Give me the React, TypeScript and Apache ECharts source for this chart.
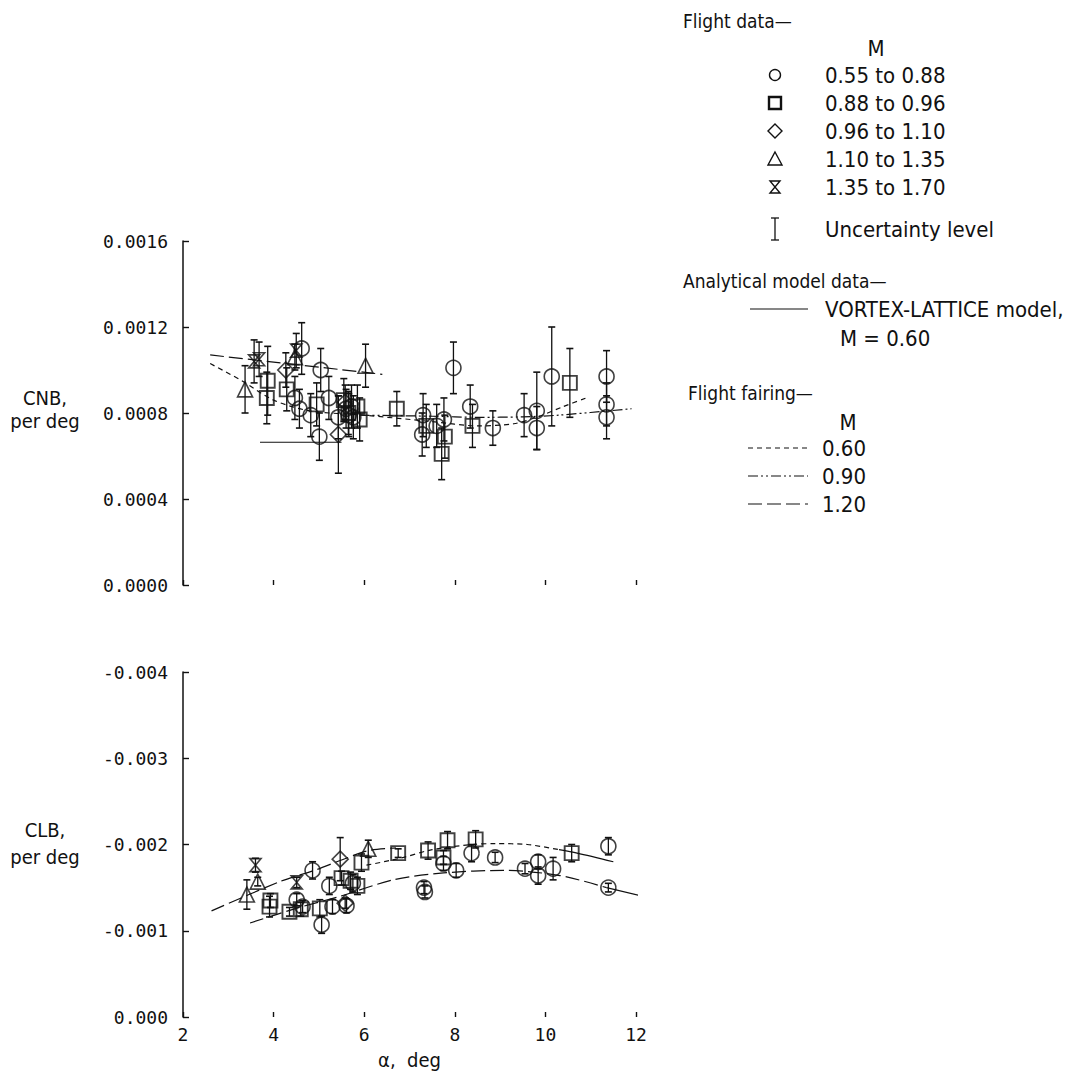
import React, { useEffect, useRef } from "react";
import * as echarts from "echarts";

// ---------- Data: [alpha (deg), value, uncertainty] ----------
// CNB (upper plot)
const cnbCircles = [
  [4.62, 0.0011, 0.00012], [4.47, 0.00087, 0.0001], [4.57, 0.00082, 0.00009], [4.82, 0.00079, 0.0001],
  [5.04, 0.001, 0.0001], [5.01, 0.00069, 0.00011], [5.22, 0.00087, 0.0001], [5.43, 0.00078, 0.0001],
  [5.6, 0.00082, 0.00009], [5.66, 0.00079, 0.0001], [5.72, 0.00083, 0.0001], [5.76, 0.00078, 0.0001],
  [7.3, 0.00079, 0.0001], [7.28, 0.0007, 0.0001], [7.6, 0.00074, 0.0001], [7.76, 0.00077, 0.0001],
  [7.97, 0.00101, 0.00012], [8.34, 0.00083, 0.0001], [8.84, 0.00073, 0.00008], [9.53, 0.00079, 0.0001],
  [9.81, 0.00081, 0.00018], [9.81, 0.00073, 0.0001], [10.14, 0.00097, 0.00023], [11.35, 0.00097, 0.00012],
  [11.35, 0.00084, 0.0001], [11.35, 0.00078, 0.0001],
];
const cnbSquares = [
  [3.87, 0.00095, 0.00016], [3.85, 0.00087, 0.00012], [4.29, 0.00091, 0.0001], [4.95, 0.00084, 0.0001],
  [5.55, 0.00086, 0.0001], [5.65, 0.0008, 0.0001], [5.85, 0.00083, 0.0001], [5.9, 0.00077, 0.0001],
  [6.72, 0.00082, 0.00008], [7.37, 0.00074, 0.0001], [7.78, 0.00069, 0.0001], [7.71, 0.00061, 0.00012],
  [8.39, 0.00074, 0.0001], [10.54, 0.00094, 0.00016],
];
const cnbDiamonds = [
  [4.27, 0.001, 0.00008], [5.43, 0.0007, 0.00018], [5.58, 0.00085, 0.00008],
];
const cnbTriangles = [
  [3.37, 0.00091, 0.00011], [4.47, 0.00106, 0.00006], [6.03, 0.00102, 0.0001],
];
const cnbHourglass = [
  [3.57, 0.00104, 0.0001], [3.68, 0.00105, 0.00008], [4.5, 0.00109, 0.00008],
];
// CNB curves [alpha, value]
const cnbVortex = [[3.7, 0.000664], [5.5, 0.000664]];
const cnbFair060 = [
  [2.6, 0.00103], [3.3, 0.00095], [4.0, 0.00086], [4.8, 0.00081], [6.0, 0.00079], [7.5, 0.00076],
  [8.5, 0.00074], [9.3, 0.00075], [9.8, 0.00078], [10.4, 0.00083], [10.9, 0.00087],
];
const cnbFair090 = [
  [5.9, 0.00079], [7.5, 0.000785], [8.5, 0.00078], [9.5, 0.000782], [10.3, 0.00079], [11.9, 0.00082],
];
const cnbFair120 = [[2.6, 0.00107], [6.4, 0.00098]];

// CLB (lower plot)
const clbCircles = [
  [4.64, -0.00128, 0.00007], [4.51, -0.00136, 0.00007], [4.86, -0.0017, 0.0001], [5.06, -0.00107, 0.0001],
  [5.23, -0.00152, 0.0001], [5.3, -0.00128, 0.00008], [5.61, -0.00129, 0.00008], [5.75, -0.00155, 0.0001],
  [7.32, -0.0015, 0.00007], [7.34, -0.00145, 0.00007], [7.75, -0.00178, 0.00008], [8.03, -0.0017, 0.00008],
  [8.37, -0.0019, 0.0001], [8.89, -0.00185, 0.00006], [9.55, -0.00172, 0.00006], [9.84, -0.0018, 0.00008],
  [9.84, -0.00164, 0.0001], [10.17, -0.00172, 0.00013], [11.39, -0.00198, 0.0001], [11.39, -0.0015, 0.00005],
];
const clbSquares = [
  [3.91, -0.00128, 0.00012], [3.93, -0.00135, 0.00008], [4.35, -0.00122, 0.00005], [4.6, -0.00125, 0.00008],
  [5.02, -0.00126, 0.0001], [5.5, -0.00161, 0.00008], [5.7, -0.00158, 0.0001], [5.85, -0.00152, 0.0001],
  [5.94, -0.00179, 0.0001], [6.75, -0.0019, 0.00005], [7.41, -0.00193, 0.0001], [7.75, -0.00185, 0.00008],
  [7.84, -0.00205, 0.0001], [8.46, -0.00206, 0.0001], [10.58, -0.0019, 0.0001],
];
const clbDiamonds = [[5.47, -0.00183, 0.00025], [5.58, -0.00132, 0.00006]];
const clbTriangles = [[3.41, -0.00142, 0.00017], [3.65, -0.00157, 0.00005], [6.09, -0.00195, 0.0001]];
const clbHourglass = [[3.6, -0.00176, 0.00008], [4.51, -0.00156, 0.00006]];
// CLB curves
const clbVortexA = [[10.3, -0.00194], [10.7, -0.0019], [11.5, -0.0018]];
const clbVortexB = [[11.35, -0.0015], [12.16, -0.0014]];
const clbFair060 = [
  [3.48, -0.00109], [4.5, -0.00126], [5.47, -0.0014], [6.64, -0.00159], [7.75, -0.00167],
  [9.07, -0.0017], [10.32, -0.00164], [11.35, -0.0015],
];
const clbFair090 = [
  [6.05, -0.00176], [6.79, -0.00184], [7.5, -0.00194], [8.4, -0.002], [8.9, -0.00201],
  [9.6, -0.002], [10.3, -0.00194],
];
const clbFair120 = [
  [2.63, -0.00123], [4.14, -0.00157], [4.9, -0.0017], [5.5, -0.00182], [6.1, -0.00193], [6.7, -0.00196],
];

const xTickLabels = ["2", "4", "6", "8", "10", "12"];

const MONO = '"DejaVu Sans Mono", "Liberation Mono", monospace';
const SANS = '"DejaVu Sans Condensed", "Liberation Sans Narrow", "Liberation Sans", sans-serif';
const INK = "#111";

const HOURGLASS = "path://M0,0L10,0L0,10L10,10Z";

const DASH060 = [5, 4];
const DASH090 = [10, 3, 2, 3, 2, 3];
const DASH120 = [14, 5];

function scatter(data: number[][], symbol: string, size: any, gi: number, bw = 1.6) {
  return {
    type: "scatter",
    xAxisIndex: gi,
    yAxisIndex: gi,
    data: data.map((d) => [d[0], d[1]]),
    symbol,
    symbolSize: size,
    itemStyle: { color: "rgba(0,0,0,0)", borderColor: INK, borderWidth: bw },
    z: 3,
    silent: true,
  };
}

function errBars(data: number[][], gi: number) {
  return {
    type: "custom",
    xAxisIndex: gi,
    yAxisIndex: gi,
    data,
    encode: { x: 0, y: 1 },
    z: 2,
    silent: true,
    renderItem: (params: any, api: any) => {
      const x = api.value(0);
      const y = api.value(1);
      const e = api.value(2);
      const p1 = api.coord([x, y + e]);
      const p2 = api.coord([x, y - e]);
      const c = 3.5;
      const st = { stroke: INK, lineWidth: 1.3 };
      return {
        type: "group",
        children: [
          { type: "line", shape: { x1: p1[0], y1: p1[1], x2: p2[0], y2: p2[1] }, style: st },
          { type: "line", shape: { x1: p1[0] - c, y1: p1[1], x2: p1[0] + c, y2: p1[1] }, style: { stroke: INK, lineWidth: 1.6 } },
          { type: "line", shape: { x1: p2[0] - c, y1: p2[1], x2: p2[0] + c, y2: p2[1] }, style: { stroke: INK, lineWidth: 1.6 } },
        ],
      };
    },
  };
}

function curve(data: number[][], gi: number, dash: any, clip = true) {
  return {
    type: "line",
    xAxisIndex: gi,
    yAxisIndex: gi,
    data,
    symbol: "none",
    showSymbol: false,
    smooth: 0.3,
    clip,
    lineStyle: { color: INK, width: 1.2, type: dash },
    z: 1,
    silent: true,
  };
}

function legendGraphics() {
  const g: any[] = [];
  const title = (text: string, x: number, y: number) =>
    g.push({ type: "text", x, y, style: { text, fontFamily: SANS, fontSize: 19, fill: INK, textVerticalAlign: "middle" } });
  const label = (text: string, x: number, y: number, align = "left") =>
    g.push({ type: "text", x, y, style: { text, fontFamily: SANS, fontSize: 22, fill: INK, textAlign: align, textVerticalAlign: "middle" } });
  const stroke = { fill: "none", stroke: INK, lineWidth: 1.4 };

  title("Flight data\u2014", 683, 21);
  label("M", 876, 48, "center");
  const rows = [75, 103, 131, 159, 187];
  const txt = ["0.55 to 0.88", "0.88 to 0.96", "0.96 to 1.10", "1.10 to 1.35", "1.35 to 1.70"];
  rows.forEach((y, i) => label(txt[i], 825, y));
  g.push({ type: "circle", shape: { cx: 775, cy: rows[0], r: 5.5 }, style: stroke });
  g.push({ type: "rect", shape: { x: 769, y: rows[1] - 6, width: 12, height: 12 }, style: { fill: "none", stroke: INK, lineWidth: 2.4 } });
  g.push({ type: "polygon", shape: { points: [[775, rows[2] - 7], [782, rows[2]], [775, rows[2] + 7], [768, rows[2]]] }, style: stroke });
  g.push({ type: "polygon", shape: { points: [[775, rows[3] - 7], [782, rows[3] + 6], [768, rows[3] + 6]] }, style: stroke });
  g.push({ type: "polygon", shape: { points: [[770, rows[4] - 6], [780, rows[4] - 6], [770, rows[4] + 6], [780, rows[4] + 6]] }, style: stroke });

  // uncertainty symbol
  g.push({ type: "line", shape: { x1: 775, y1: 218, x2: 775, y2: 240 }, style: { stroke: INK, lineWidth: 1.3 } });
  g.push({ type: "line", shape: { x1: 771, y1: 218, x2: 779, y2: 218 }, style: { stroke: INK, lineWidth: 1.3 } });
  g.push({ type: "line", shape: { x1: 771, y1: 240, x2: 779, y2: 240 }, style: { stroke: INK, lineWidth: 1.3 } });
  label("Uncertainty level", 825, 229);

  title("Analytical model data\u2014", 683, 281);
  g.push({ type: "line", shape: { x1: 750, y1: 309, x2: 808, y2: 309 }, style: { stroke: INK, lineWidth: 1.2 } });
  label("VORTEX-LATTICE model,", 825, 309);
  label("M = 0.60", 840, 338);

  title("Flight fairing\u2014", 688, 393);
  label("M", 848, 422, "center");
  const fy = [448, 476, 504];
  const fd = [DASH060, DASH090, DASH120];
  const ft = ["0.60", "0.90", "1.20"];
  fy.forEach((y, i) => {
    g.push({ type: "line", shape: { x1: 748, y1: y, x2: 808, y2: y }, style: { stroke: INK, lineWidth: 1.2, lineDash: fd[i] } });
    label(ft[i], 822, y);
  });

  // y-axis titles
  const ytitle = (text: string, y: number) =>
    g.push({ type: "text", x: 45, y, style: { text, fontFamily: SANS, fontSize: 20, fill: INK, textAlign: "center", textVerticalAlign: "middle" } });
  ytitle("CNB,", 398);
  ytitle("per deg", 421);
  ytitle("CLB,", 830);
  ytitle("per deg", 857);
  return g;
}

export default function App() {
  const ref = useRef<HTMLDivElement>(null);
  useEffect(() => {
    if (!ref.current) return;
    const chart = echarts.init(ref.current, undefined, { renderer: "svg" });

    const xAxisBase = (gi: number, showLabels: boolean) => ({
      type: "value",
      gridIndex: gi,
      min: 2,
      max: 12,
      interval: 2,
      axisLine: { show: false },
      axisTick: { show: true, inside: true, length: 5, lineStyle: { color: INK, width: 1.4 } },
      splitLine: { show: false },
      axisLabel: {
        show: showLabels,
        margin: 8,
        fontFamily: MONO,
        fontSize: 18,
        color: INK,
        formatter: (v: number) => xTickLabels[Math.round((v - 2) / 2)] ?? "",
      },
      name: showLabels ? "\u03b1,  deg" : "",
      nameLocation: "middle",
      nameGap: 33,
      nameTextStyle: { fontFamily: SANS, fontSize: 20, color: INK },
    });

    const yAxisBase = (gi: number, min: number, max: number, interval: number, digits: number, inverse: boolean) => ({
      type: "value",
      gridIndex: gi,
      min,
      max,
      interval,
      inverse,
      axisLine: { show: true, lineStyle: { color: INK, width: 1.5 } },
      axisTick: { show: true, inside: true, length: 6, lineStyle: { color: INK, width: 1.4 } },
      splitLine: { show: false },
      axisLabel: {
        margin: 15,
        fontFamily: MONO,
        fontSize: 18,
        color: INK,
        formatter: (v: number) => {
          const s = Math.abs(v) < 1e-12 ? (0).toFixed(digits) : v.toFixed(digits);
          return s;
        },
      },
    });

    const cnbAll = [...cnbCircles, ...cnbSquares, ...cnbDiamonds, ...cnbTriangles, ...cnbHourglass];
    const clbAll = [...clbCircles, ...clbSquares, ...clbDiamonds, ...clbTriangles, ...clbHourglass];

    chart.setOption({
      animation: false,
      backgroundColor: "#fff",
      grid: [
        { left: 183, top: 241, width: 453, height: 344 },
        { left: 183, top: 672, width: 453, height: 345 },
      ],
      xAxis: [xAxisBase(0, false), xAxisBase(1, true)],
      yAxis: [
        yAxisBase(0, 0, 0.0016, 0.0004, 4, false),
        yAxisBase(1, -0.004, 0, 0.001, 3, true),
      ],
      graphic: legendGraphics(),
      series: [
        errBars(cnbAll, 0),
        scatter(cnbCircles, "circle", 15, 0),
        scatter(cnbSquares, "rect", 14, 0, 1.9),
        scatter(cnbDiamonds, "diamond", 16, 0),
        scatter(cnbTriangles, "triangle", 15, 0),
        scatter(cnbHourglass, HOURGLASS, [11, 13], 0),
        curve(cnbVortex, 0, "solid"),
        curve(cnbFair060, 0, DASH060),
        curve(cnbFair090, 0, DASH090),
        curve(cnbFair120, 0, DASH120),

        errBars(clbAll, 1),
        scatter(clbCircles, "circle", 15, 1),
        scatter(clbSquares, "rect", 14, 1, 1.9),
        scatter(clbDiamonds, "diamond", 16, 1),
        scatter(clbTriangles, "triangle", 15, 1),
        scatter(clbHourglass, HOURGLASS, [11, 13], 1),
        curve(clbVortexA, 1, "solid"),
        curve(clbVortexB, 1, "solid", false),
        curve(clbFair060, 1, DASH120),
        curve(clbFair090, 1, DASH060),
        curve(clbFair120, 1, DASH120),
      ],
    });
    return () => chart.dispose();
  }, []);

  return (
    <div
      ref={ref}
      style={{ position: "absolute", left: 0, top: 0, width: 1073, height: 1079, background: "#fff" }}
    />
  );
}
